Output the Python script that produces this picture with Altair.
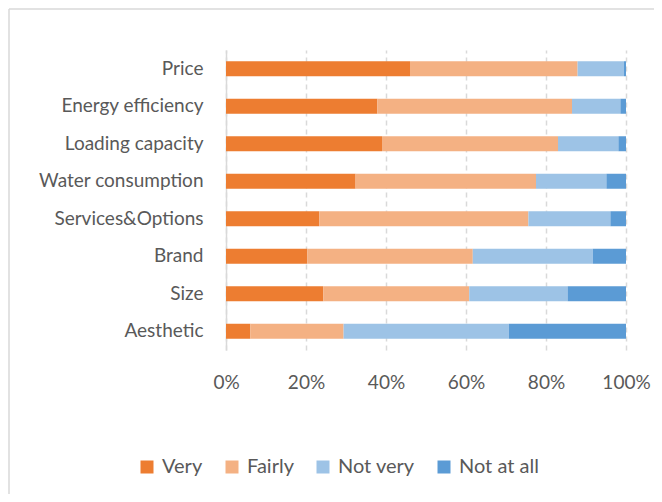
import altair as alt
import pandas as pd

categories = ["Price", "Energy efficiency", "Loading capacity", "Water consumption",
              "Services&Options", "Brand", "Size", "Aesthetic"]
levels = ["Very", "Fairly", "Not very", "Not at all"]
very = [46.0, 37.8, 39.0, 32.4, 23.3, 20.3, 24.3, 6.1]
fairly = [41.9, 48.7, 44.0, 45.1, 52.3, 41.4, 36.5, 23.3]
not_very = [11.6, 12.1, 15.1, 17.6, 20.5, 30.0, 24.6, 41.3]
not_at_all = [0.5, 1.4, 1.9, 4.9, 3.9, 8.3, 14.6, 29.3]
colors = ["#ED7D31", "#F4B183", "#9DC3E6", "#5B9BD5"]

rows = []
for i, c in enumerate(categories):
    for j, (lvl, series) in enumerate(zip(levels, [very, fairly, not_very, not_at_all])):
        rows.append({"Feature": c, "Level": lvl, "Value": series[i], "ord": j})
df = pd.DataFrame(rows)

FONT = "Lato"

bars = alt.Chart(df).mark_bar().encode(
    y=alt.Y("Feature:N", sort=categories,
            scale=alt.Scale(paddingInner=0.6, paddingOuter=0.3),
            axis=alt.Axis(title=None, ticks=False, domain=True, domainColor="#d9d9d9",
                          domainWidth=1.5, labelFontSize=19, labelColor="#595959",
                          labelFont=FONT, labelPadding=23, grid=False)),
    x=alt.X("Value:Q", stack="normalize",
            scale=alt.Scale(domain=[0, 1]),
            axis=alt.Axis(title=None, format=".0%", values=[0, 0.2, 0.4, 0.6, 0.8, 1.0],
                          ticks=False, domain=False, grid=True, gridColor="#d9d9d9",
                          gridDash=[5, 4], gridWidth=1.5, labelFontSize=19,
                          labelColor="#595959", labelFont=FONT, labelPadding=23,
                          labelFlush=False)),
    color=alt.Color("Level:N", sort=levels,
                    scale=alt.Scale(domain=levels, range=colors),
                    legend=alt.Legend(title=None, orient="none", direction="horizontal",
                                      legendX=-89, legendY=407, symbolType="square",
                                      symbolSize=169, symbolStrokeWidth=0,
                                      labelFontSize=20, labelColor="#595959",
                                      labelFont=FONT, columnPadding=19, labelOffset=5)),
    order=alt.Order("ord:Q", sort="ascending"),
)

frame_df = pd.DataFrame({"a": [0]})
left_line = alt.Chart(frame_df).mark_rule(color="#d9d9d9", strokeWidth=1.5).encode(
    x=alt.value(-217), y=alt.value(-41), y2=alt.value(444))
top_line = alt.Chart(frame_df).mark_rule(color="#d9d9d9", strokeWidth=1.5).encode(
    x=alt.value(-217), x2=alt.value(428), y=alt.value(-41))

chart = alt.layer(left_line, top_line, bars).properties(
    width=400, height=300,
    background="white",
    autosize=alt.AutoSizeParams(type="none"),
    padding={"left": 218, "top": 42, "right": 28, "bottom": 144},
).configure_view(stroke=None)

chart.save("out.html", embed_options={"renderer": "svg", "actions": False})
